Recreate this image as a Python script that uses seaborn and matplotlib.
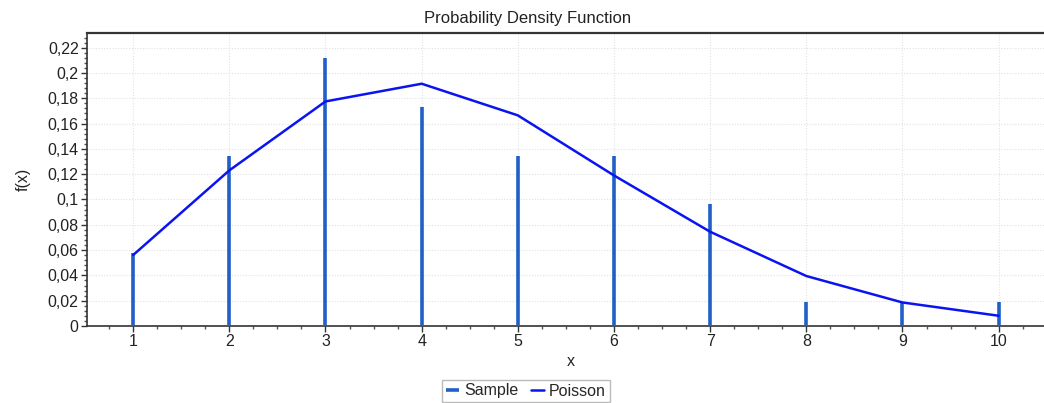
import matplotlib
matplotlib.use("Agg")
import matplotlib.pyplot as plt
import seaborn as sns
import pandas as pd
from matplotlib.ticker import MultipleLocator, FuncFormatter

x_values = [1, 2, 3, 4, 5, 6, 7, 8, 9, 10]
sample_values = [0.0577, 0.1346, 0.2115, 0.1731, 0.1346, 0.1346, 0.0962, 0.0192, 0.0192, 0.0192]
poisson_values = [0.0561, 0.1230, 0.1775, 0.1915, 0.1665, 0.1190, 0.0745, 0.0395, 0.0186, 0.0081]

title_text = "Probability Density Function"
x_label = "x"
y_label = "f(x)"
series_names = ["Sample", "Poisson"]

sns.set_style("white")
plt.rcParams["font.family"] = ["Liberation Sans", "DejaVu Sans"]

df = pd.DataFrame({"x": x_values, "Sample": sample_values, "Poisson": poisson_values})

fig = plt.figure(figsize=(10.44, 4.03), dpi=100)
ax = fig.add_axes([87 / 1044, 1 - 326 / 403, 1 - 87 / 1044 + 0.01, (326 - 33) / 403])

sample_color = "#1f5fc8"
poisson_color = "#0a14f0"

ax.vlines(df["x"], 0, df["Sample"], color=sample_color, lw=2.6, label=series_names[0], zorder=3)
sns.lineplot(data=df, x="x", y="Poisson", ax=ax, color=poisson_color, lw=1.8,
             label=series_names[1], zorder=4, legend=False)

ax.set_xlim(0.52, 10.48 + 0.1)
ax.set_ylim(0, 0.2316)

ax.xaxis.set_major_locator(MultipleLocator(1))
ax.xaxis.set_minor_locator(MultipleLocator(0.25))
ax.yaxis.set_major_locator(MultipleLocator(0.02))
ax.yaxis.set_minor_locator(MultipleLocator(0.004))


def fmt(v, pos):
    s = f"{v:.2f}".rstrip("0").rstrip(".")
    if s in ("", "-0"):
        s = "0"
    return s.replace(".", ",")


ax.yaxis.set_major_formatter(FuncFormatter(fmt))
ax.xaxis.set_major_formatter(FuncFormatter(lambda v, p: f"{int(round(v))}"))

ax.tick_params(axis="both", which="major", direction="out", length=4, width=1,
               color="#333333", labelsize=11.5, labelcolor="#222222", pad=2,
               bottom=True, left=True)
ax.tick_params(axis="both", which="minor", direction="out", length=2, width=1,
               color="#555555", bottom=True, left=True)

ax.grid(True, which="major", color="#e2e2e2", linestyle=(0, (1, 1.5)), lw=0.8, zorder=0)

for side in ["left", "bottom", "top"]:
    ax.spines[side].set_visible(True)
    ax.spines[side].set_color("#333333")
    ax.spines[side].set_linewidth(1.2)
ax.spines["top"].set_linewidth(1.6)
ax.spines["right"].set_visible(False)

ax.set_xlabel(x_label, fontsize=11.5, color="#222222", labelpad=3)
ax.set_ylabel(y_label, fontsize=11.5, color="#222222", labelpad=12)

fig.text(528 / 1044, 1 - 18 / 403, title_text, ha="center", va="center", fontsize=12, color="#222222")

handles, labels = ax.get_legend_handles_labels()
leg = fig.legend(handles, labels, loc="center", bbox_to_anchor=(526 / 1044, 1 - 391 / 403),
                 ncol=2, fontsize=11.5, frameon=True, fancybox=False, handlelength=0.8,
                 handletextpad=0.3, columnspacing=0.8, borderpad=0.25, edgecolor="#aaaaaa")
leg.get_frame().set_linewidth(1.0)

fig.savefig("out.png", dpi=100)
